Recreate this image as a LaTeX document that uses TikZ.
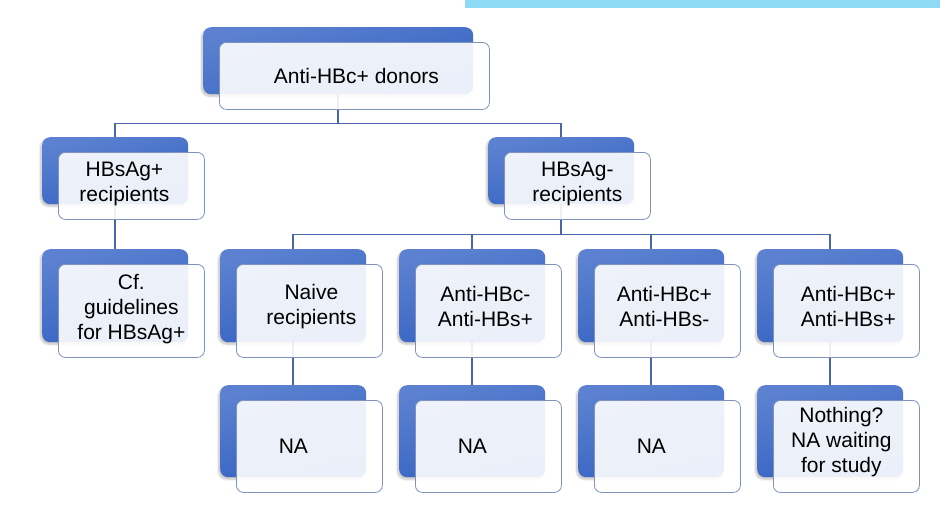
\documentclass[tikz,border=0pt]{standalone}
\usepackage{fontspec}
\setmainfont{Liberation Sans}
\usetikzlibrary{calc,shadows.blur}
\pgfdeclarelayer{connlayer}
\pgfsetlayers{connlayer,main}
\definecolor{bartop}{HTML}{8ED9F4}
\definecolor{blueA}{HTML}{5C81D0}
\definecolor{blueB}{HTML}{3462C2}
\definecolor{conncol}{HTML}{4866A8}
\definecolor{frontline}{HTML}{7F92BC}
\tikzset{
  backbox/.style={rounded corners=8pt, top color=blueA, bottom color=blueB,
    shading angle=15, draw=none, inner sep=0pt, anchor=north west,
    blur shadow={shadow xshift=-1.5pt, shadow yshift=-2pt, shadow opacity=25, shadow blur steps=6}},
  frontbox/.style={rounded corners=7pt, draw=frontline, line width=0.8pt,
    fill=white, fill opacity=0.9, text opacity=1, inner sep=0pt, anchor=north west},
  lbl/.style={font=\fontsize{21}{25}\selectfont, align=center, inner sep=0pt},
  conn/.style={draw=conncol, line width=1.6pt}
}
% #1 name, #2 x, #3 y, #4 w, #5 h, #6 dx, #7 dy, #8 text
\newcommand{\boxpair}[8]{%
  \node[backbox, minimum width=#4pt, minimum height=#5pt] (#1b) at (#2pt,-#3pt) {};
  \node[frontbox, minimum width=#4pt, minimum height=#5pt] (#1f) at ($(#1b.north west)+(16pt,-15pt)$) {};
  \node[lbl] (#1t) at ($(#1f.center)+(#6pt,#7pt)$) {#8};
}
\begin{document}
\begin{tikzpicture}
\useasboundingbox (0,0) rectangle (949pt,-522pt);
\fill[bartop] (465pt,0) rectangle (940pt,-8pt);

\boxpair{top}{203}{27}{270}{67}{2}{0}{Anti-HBc+ donors}
\boxpair{hp}{42}{137}{146}{67}{-7}{2}{HBsAg+\\recipients}
\boxpair{hm}{488}{137}{146}{67}{0}{2}{HBsAg-\\recipients}
\boxpair{cf}{42}{249}{146}{93}{0}{1.5}{Cf.\\guidelines\\for HBsAg+}
\boxpair{na}{220}{249}{146}{93}{2}{4}{Naive\\recipients}
\boxpair{nb}{399}{249}{146}{93}{-3}{4}{Anti-HBc-\\Anti-HBs+}
\boxpair{nc}{578}{249}{146}{93}{-3}{4}{Anti-HBc+\\Anti-HBs-}
\boxpair{nd}{757}{249}{146}{93}{2}{4}{Anti-HBc+\\Anti-HBs+}
\boxpair{aa}{220}{385}{146}{92}{-16}{0}{NA}
\boxpair{ab}{399}{385}{146}{92}{-16}{0}{NA}
\boxpair{ac}{578}{385}{146}{92}{-16}{0}{NA}
\boxpair{ad}{757}{385}{146}{92}{-5}{4}{Nothing?\\NA waiting\\for study}

\begin{pgfonlayer}{connlayer}
\path ($(topf.south)!0.5!(hpb.north)$) coordinate (bus1);
\path ($(hmf.south)!0.5!(nab.north)$) coordinate (bus2);
\draw[conn] (topb.south) -- (topb.south |- bus1) -| (hpb.north);
\draw[conn] (topb.south |- bus1) -| (hmb.north);
\draw[conn] (hpb.south) -- (cfb.north);
\draw[conn] (hmb.south) -- (hmb.south |- bus2) -| (nab.north);
\draw[conn] (hmb.south |- bus2) -| (nbb.north);
\draw[conn] (hmb.south |- bus2) -| (ncb.north);
\draw[conn] (hmb.south |- bus2) -| (ndb.north);
\draw[conn] (nab.south) -- (aab.north);
\draw[conn] (nbb.south) -- (abb.north);
\draw[conn] (ncb.south) -- (acb.north);
\draw[conn] (ndb.south) -- (adb.north);
\end{pgfonlayer}
\end{tikzpicture}
\end{document}
